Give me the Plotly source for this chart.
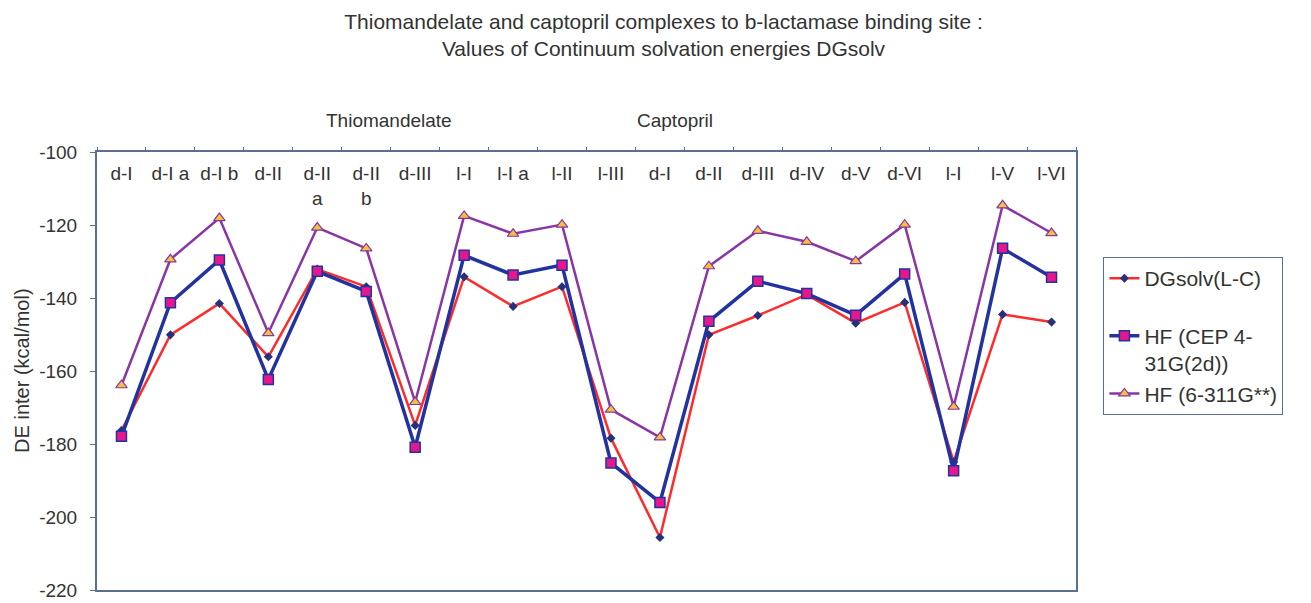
import plotly.graph_objects as go

categories = ["d-I", "d-I a", "d-I b", "d-II", "d-II<br>a", "d-II<br>b", "d-III", "l-I", "l-I a", "l-II",
              "l-III", "d-I", "d-II", "d-III", "d-IV", "d-V", "d-VI", "l-I", "l-V", "l-VI"]
group_labels = ["Thiomandelate", "Captopril"]
y_ticks = [-220, -200, -180, -160, -140, -120, -100]
y_ticktext = ["-220", "-200", "-180", "-160", "-140", "-120", "-100"]

dgsolv = [-176.3, -150.1, -141.5, -156.1, -132.1, -136.9, -174.9, -134.2, -142.3, -136.9,
          -178.4, -205.6, -150.1, -144.8, -139.1, -146.9, -141.2, -184.9, -144.5, -146.6]
hf_cep = [-177.9, -141.3, -129.6, -162.3, -132.7, -138.2, -180.9, -128.3, -133.7, -131.0,
          -185.2, -196.0, -146.4, -135.4, -138.8, -144.7, -133.4, -187.3, -126.4, -134.3]
hf_6311 = [-163.9, -129.4, -118.1, -149.6, -120.7, -126.4, -168.5, -117.5, -122.4, -119.9,
           -170.6, -178.2, -131.3, -121.6, -124.6, -129.9, -119.9, -169.8, -114.6, -122.2]

xs = list(range(len(categories)))
FONT = "Arial, Liberation Sans, sans-serif"
AXC = "#5b6f8f"
TXT = "#333333"

fig = go.Figure()
fig.add_trace(go.Scatter(
    x=xs, y=dgsolv, name="DGsolv(L-C)<br> ", mode="lines+markers", legendgroup="a",
    line=dict(color="#ff2a2a", width=2.5),
    marker=dict(symbol="diamond", size=7, color="#27307a", line=dict(width=0))))
fig.add_trace(go.Scatter(
    x=xs, y=hf_cep, name="HF (CEP 4-<br>31G(2d))", mode="lines+markers", legendgroup="b",
    line=dict(color="#2233a0", width=3.5),
    marker=dict(symbol="square", size=10, color="#e8168c", line=dict(width=1.5, color="#2233a0"))))
fig.add_trace(go.Scatter(
    x=xs, y=hf_6311, name="HF (6-311G**)", mode="lines+markers", legendgroup="c",
    line=dict(color="#8a35a5", width=2.5),
    marker=dict(symbol="triangle-up", size=10, color="#f2c23a", line=dict(width=1.2, color="#8a35a5"))))

# invisible helper trace on overlay axes (boundary tick marks on top, y labels on left)
fig.add_trace(go.Scatter(x=[xs[0] - 0.5, xs[-1] + 0.5], y=[-100, -220], xaxis="x2", yaxis="y2",
                         mode="markers", marker=dict(opacity=0), showlegend=False, hoverinfo="skip"))

fig.update_layout(
    width=1311, height=603,
    margin=dict(l=89, r=243, t=144, b=21),
    paper_bgcolor="white", plot_bgcolor="white",
    font=dict(family=FONT, color=TXT, size=19),
    title=dict(text="Thiomandelate and captopril complexes to b-lactamase binding site :<br>Values of Continuum solvation energies DGsolv",
               x=0.5, xanchor="center", y=0.966, yanchor="middle",
               font=dict(size=21, color=TXT, family=FONT)),
    xaxis=dict(range=[-0.5, len(xs) - 0.5], side="top", tickmode="array", tickvals=xs, ticktext=categories,
               ticks="", ticklabelposition="inside", ticklabelstandoff=16, showgrid=False, zeroline=False,
               automargin=False, showline=True, linecolor=AXC, linewidth=1.5, mirror=True,
               tickfont=dict(size=19, color=TXT)),
    xaxis2=dict(range=[-0.5, len(xs) - 0.5], overlaying="x", side="top", tickmode="array", anchor="y",
                tickvals=[i - 0.5 for i in range(len(xs) + 1)], showticklabels=False, automargin=False,
                ticks="outside", ticklen=4, tickcolor=AXC, showgrid=False, zeroline=False, showline=False),
    yaxis=dict(range=[-220, -100], tickmode="array", tickvals=y_ticks, showticklabels=False,
               ticks="", automargin=False,
               showgrid=False, zeroline=False, showline=True, linecolor=AXC, linewidth=1.5, mirror=True),
    yaxis2=dict(range=[-220, -100], overlaying="y", side="left", anchor="x", tickmode="array",
                tickvals=y_ticks, ticktext=y_ticktext, ticks="outside", ticklen=6, tickcolor=AXC,
                ticklabelstandoff=9, automargin=False, showgrid=False, zeroline=False, showline=False,
                tickfont=dict(size=19, color=TXT)),
    legend=dict(x=1.028, xanchor="left", y=0.76, yanchor="top", valign="top",
                bordercolor=AXC, borderwidth=1, bgcolor="white",
                font=dict(size=21, color=TXT), traceorder="grouped", tracegroupgap=0),
    annotations=[
        dict(text=group_labels[0], x=0.298, y=1.1, xref="paper", yref="paper", showarrow=False,
             xanchor="center", font=dict(size=19, color=TXT)),
        dict(text=group_labels[1], x=0.59, y=1.1, xref="paper", yref="paper", showarrow=False,
             xanchor="center", font=dict(size=19, color=TXT)),
        dict(text="DE inter (kcal/mol)", x=-0.09, y=0.5, xref="paper", yref="paper", showarrow=False,
             textangle=-90, font=dict(size=20, color=TXT)),
    ],
)

fig.write_html("out.html")
